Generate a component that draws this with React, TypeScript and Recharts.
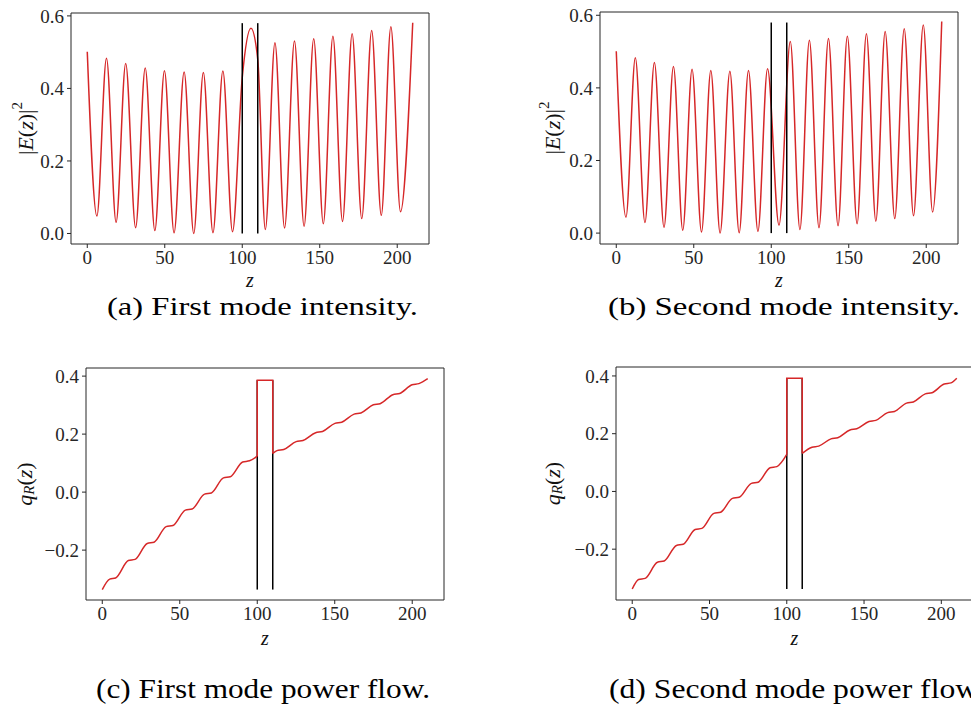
import React from "react";
import { LineChart, Line, XAxis, YAxis, ReferenceLine } from "recharts";

const FONT = '"Liberation Serif", "DejaVu Serif", serif';
const RED = "#d62728";
const INK = "#262626";

// x ticks and limits shared by all four panels
const zTicks = [0, 50, 100, 150, 200];
const zDomain = [-10.5, 220.5];

// (a) first mode intensity |E(z)|^2 : peaks / troughs
const zA = [0, 6.2, 12.4, 18.6, 24.8, 31.2, 37.4, 43.6, 49.8, 56.0, 62.5, 68.7, 74.9, 81.1, 87.5, 93.7, 100, 105.6, 110, 114.9, 121.1, 127.3, 133.7, 139.9, 146.1, 152.3, 158.5, 164.7, 170.9, 177.1, 183.5, 189.7, 195.9, 202.1, 210];
const eA = [0.501, 0.048, 0.483, 0.031, 0.469, 0.016, 0.456, 0.008, 0.449, 0.002, 0.445, 0.0, 0.444, 0.002, 0.448, 0.005, 0.43, 0.566, 0.48, 0.011, 0.526, 0.015, 0.531, 0.02, 0.537, 0.027, 0.544, 0.033, 0.551, 0.041, 0.56, 0.05, 0.57, 0.06, 0.581];

// (b) second mode intensity
const zB = [0, 6.25, 12.3, 18.5, 24.6, 30.8, 36.9, 42.9, 48.9, 55.0, 61.0, 67.0, 73.3, 79.3, 85.3, 91.4, 97.6, 105.0, 112.3, 118.5, 124.6, 130.8, 136.9, 143.1, 149.1, 155.4, 161.4, 167.5, 173.5, 179.7, 185.8, 191.8, 198.1, 204.1, 210];
const eB = [0.501, 0.044, 0.483, 0.029, 0.47, 0.016, 0.459, 0.008, 0.451, 0.003, 0.448, 0.0, 0.446, 0.001, 0.448, 0.005, 0.453, 0.022, 0.528, 0.01, 0.531, 0.015, 0.536, 0.02, 0.542, 0.026, 0.549, 0.033, 0.555, 0.04, 0.563, 0.048, 0.573, 0.058, 0.583];

// markers for the slab 100..110
const slabZ = [100, 110];
const slabTopE = 0.58;

// (c) first mode power flow q_R(z): plateau edges, the jump box, then the rest
const zC1 = [0, 4.8, 8.6, 16.8, 21.2, 29.0, 33.4, 41.2, 45.6, 53.6, 58.0, 66.0, 70.4, 78.2, 82.6, 90.6, 95.0, 100];
const qC1 = [-0.336, -0.3, -0.296, -0.236, -0.232, -0.177, -0.173, -0.119, -0.115, -0.062, -0.058, -0.007, -0.003, 0.049, 0.053, 0.104, 0.108, 0.124];
const zC2 = [100, 100, 110, 110];
const qC2 = [0.124, 0.386, 0.386, 0.133];
const zC3 = [110, 112.7, 117.1, 125.1, 129.5, 137.7, 142.1, 150.1, 154.5, 162.5, 166.9, 174.9, 179.3, 187.5, 191.9, 199.9, 204.3, 210];
const qC3 = [0.133, 0.143, 0.147, 0.174, 0.178, 0.205, 0.209, 0.237, 0.241, 0.269, 0.273, 0.301, 0.305, 0.336, 0.34, 0.37, 0.374, 0.391];
const slabC = [-0.336, 0.386];

// (d) second mode power flow
const zD1 = [0, 4.1, 8.4, 16.3, 20.7, 28.6, 33.0, 40.7, 45.1, 52.8, 57.2, 64.8, 69.2, 77.1, 81.5, 89.2, 93.6, 100];
const qD1 = [-0.338, -0.305, -0.301, -0.245, -0.241, -0.187, -0.183, -0.132, -0.128, -0.076, -0.072, -0.024, -0.02, 0.028, 0.032, 0.082, 0.086, 0.128];
const zD2 = [100, 100, 110, 110];
const qD2 = [0.128, 0.392, 0.392, 0.132];
const zD3 = [110, 116.3, 120.7, 128.6, 133.0, 140.9, 145.3, 153.2, 157.6, 165.3, 169.7, 177.5, 181.9, 189.6, 194.0, 201.9, 206.3, 210];
const qD3 = [0.132, 0.153, 0.157, 0.182, 0.186, 0.213, 0.217, 0.242, 0.246, 0.273, 0.277, 0.306, 0.31, 0.338, 0.342, 0.372, 0.376, 0.392];
const slabD = [-0.338, 0.392];

const eTicks = [0, 0.2, 0.4, 0.6];
const qTicks = [-0.2, 0, 0.2, 0.4];

type Pt = { z: number; v: number };
const zip = (zs: number[], vs: number[]): Pt[] => zs.map((z, i) => ({ z, v: vs[i] }));
const vline = (z: number, lo: number, hi: number): Pt[] => [
  { z, v: lo },
  { z, v: hi },
];

type Series = { data: Pt[]; color: string; curve: "monotone" | "linear" };

const fmt = (v: number) => v.toFixed(1).replace("-", "\u2212");

const tickStyle = { fill: INK, fontSize: 19, fontFamily: FONT };

const EField = () => (
  <>
    <tspan>|</tspan>
    <tspan fontStyle="italic">E</tspan>
    <tspan>(</tspan>
    <tspan fontStyle="italic">z</tspan>
    <tspan>)|</tspan>
    <tspan dy={-8} fontSize={15}>2</tspan>
  </>
);

const QFlow = () => (
  <>
    <tspan fontStyle="italic">q</tspan>
    <tspan fontStyle="italic" fontSize={15} dy={5}>R</tspan>
    <tspan dy={-5}>(</tspan>
    <tspan fontStyle="italic">z</tspan>
    <tspan>)</tspan>
  </>
);

interface PanelProps {
  left: number;
  top: number;
  width: number;
  height: number;
  mTop: number;
  mRight: number;
  yW: number;
  xH: number;
  yDomain: number[];
  yTicks: number[];
  labelX: number;
  zGap: number;
  kind: "E" | "q";
  series: Series[];
}

const Panel = (p: PanelProps) => {
  // plot box in chart coordinates, used to place the axis titles
  const plotBottom = p.height - p.xH;
  const plotMidY = (p.mTop + plotBottom) / 2;
  const plotMidX = (p.yW + (p.width - p.mRight)) / 2;

  const yLabel = () => (
    <text
      transform={`translate(${p.labelX},${plotMidY}) rotate(-90)`}
      textAnchor="middle"
      dominantBaseline="central"
      fontFamily={FONT}
      fontSize={22}
      fill="#111"
    >
      {p.kind === "E" ? <EField /> : <QFlow />}
    </text>
  );
  const xLabel = () => (
    <text
      x={plotMidX}
      y={plotBottom + p.zGap}
      textAnchor="middle"
      fontFamily={FONT}
      fontSize={20}
      fontStyle="italic"
      fill="#111"
    >
      z
    </text>
  );

  return (
    <div style={{ position: "absolute", left: p.left, top: p.top }}>
      <LineChart
        width={p.width}
        height={p.height}
        margin={{ top: p.mTop, right: p.mRight, left: 0, bottom: 0 }}
      >
        <XAxis
          type="number"
          dataKey="z"
          domain={zDomain}
          ticks={zTicks}
          allowDataOverflow
          height={p.xH}
          tick={tickStyle}
          tickSize={4}
          tickMargin={3}
          tickLine={{ stroke: INK }}
          axisLine={{ stroke: INK, strokeWidth: 1 }}
          label={xLabel}
        />
        <YAxis
          type="number"
          domain={p.yDomain}
          ticks={p.yTicks}
          allowDataOverflow
          width={p.yW}
          tick={tickStyle}
          tickFormatter={fmt}
          tickSize={4}
          tickMargin={3}
          tickLine={{ stroke: INK }}
          axisLine={{ stroke: INK, strokeWidth: 1 }}
          label={yLabel}
        />
        {/* top and right spines of the box */}
        <ReferenceLine y={p.yDomain[1]} stroke={INK} strokeWidth={1} ifOverflow="visible" />
        <ReferenceLine x={zDomain[1]} stroke={INK} strokeWidth={1} ifOverflow="visible" />
        {p.series.map((s, i) => (
          <Line
            key={i}
            data={s.data}
            dataKey="v"
            type={s.curve}
            stroke={s.color}
            strokeWidth={1.5}
            dot={false}
            activeDot={false}
            isAnimationActive={false}
          />
        ))}
      </LineChart>
    </div>
  );
};

const captions = [
  { text: "(a) First mode intensity.", x: 107, y: 315, w: 311, size: 26 },
  { text: "(b) Second mode intensity.", x: 608, y: 315, w: 352, size: 26 },
  { text: "(c) First mode power flow.", x: 96, y: 698, w: 334, size: 27 },
  { text: "(d) Second mode power flow.", x: 609, y: 698, w: 375, size: 27 },
];

export default function App() {
  const blackE = slabZ.map((z) => ({ data: vline(z, 0, slabTopE), color: "#000", curve: "linear" as const }));
  const blackC = slabZ.map((z) => ({ data: vline(z, slabC[0], slabC[1]), color: "#000", curve: "linear" as const }));
  const blackD = slabZ.map((z) => ({ data: vline(z, slabD[0], slabD[1]), color: "#000", curve: "linear" as const }));

  return (
    <div
      style={{
        position: "absolute",
        left: 0,
        top: 0,
        width: 971,
        height: 708,
        overflow: "hidden",
        background: "#fff",
      }}
    >
      <Panel
        left={0}
        top={0}
        width={440}
        height={300}
        mTop={13}
        mRight={11}
        yW={71}
        xH={56}
        yDomain={[-0.029, 0.608]}
        yTicks={eTicks}
        labelX={25}
        zGap={43}
        kind="E"
        series={[{ data: zip(zA, eA), color: RED, curve: "monotone" }, ...blackE]}
      />
      <Panel
        left={500}
        top={0}
        width={471}
        height={300}
        mTop={12}
        mRight={13}
        yW={100}
        xH={56}
        yDomain={[-0.03, 0.609]}
        yTicks={eTicks}
        labelX={52}
        zGap={43}
        kind="E"
        series={[{ data: zip(zB, eB), color: RED, curve: "monotone" }, ...blackE]}
      />
      <Panel
        left={0}
        top={360}
        width={446}
        height={300}
        mTop={8}
        mRight={2}
        yW={86}
        xH={60}
        yDomain={[-0.372, 0.428]}
        yTicks={qTicks}
        labelX={24}
        zGap={45}
        kind="q"
        series={[
          ...blackC,
          { data: zip(zC1, qC1), color: RED, curve: "monotone" },
          { data: zip(zC2, qC2), color: RED, curve: "linear" },
          { data: zip(zC3, qC3), color: RED, curve: "monotone" },
        ]}
      />
      <Panel
        left={500}
        top={360}
        width={475}
        height={300}
        mTop={7}
        mRight={2}
        yW={116}
        xH={60}
        yDomain={[-0.376, 0.431]}
        yTicks={qTicks}
        labelX={52}
        zGap={45}
        kind="q"
        series={[
          ...blackD,
          { data: zip(zD1, qD1), color: RED, curve: "monotone" },
          { data: zip(zD2, qD2), color: RED, curve: "linear" },
          { data: zip(zD3, qD3), color: RED, curve: "monotone" },
        ]}
      />
      <svg
        width={971}
        height={708}
        style={{ position: "absolute", left: 0, top: 0, pointerEvents: "none" }}
      >
        {captions.map((c) => (
          <text
            key={c.text}
            x={c.x}
            y={c.y}
            fontFamily={FONT}
            fontSize={c.size}
            fill="#000"
            textLength={c.w}
            lengthAdjust="spacingAndGlyphs"
          >
            {c.text}
          </text>
        ))}
      </svg>
    </div>
  );
}
